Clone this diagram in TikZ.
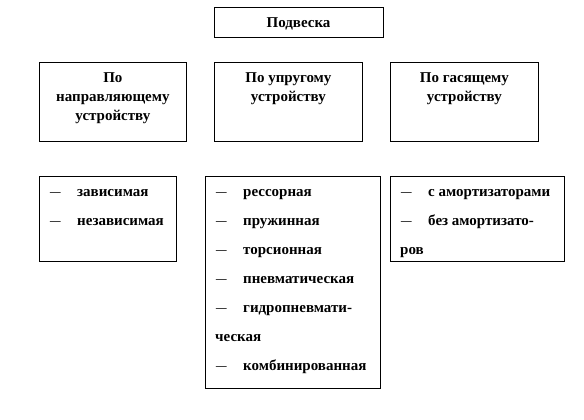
\documentclass[tikz,border=0pt]{standalone}
\usepackage{fontspec}
\setmainfont{Liberation Serif}
\usepackage{graphicx}
\newcommand\ldash{\scalebox{1.4}[1]{\mdseries –}}
\newcommand\litem[1]{\makebox[28pt][l]{\hspace{1pt}\ldash}#1}
\begin{document}
\begin{tikzpicture}[x=1pt,y=-1pt,
  frame/.style={draw, line width=0.8pt, inner sep=0pt, anchor=north west},
  head/.style={font=\bfseries\fontsize{15}{19}\selectfont, align=center, inner sep=0pt, anchor=north},
  items/.style={font=\bfseries\fontsize{15}{29}\selectfont, align=left, inner sep=0pt, anchor=north west}]
\useasboundingbox (0,0) rectangle (584,420);
% top
\node[draw, line width=0.8pt, minimum width=169pt, minimum height=30pt, inner sep=0pt] (top) at (298.5,22) {};
\node[font=\bfseries\fontsize{15}{19}\selectfont, inner sep=0pt] (toptext) at ([yshift=-1.5pt]top.center) {Подвеска};
% row 2
\node[frame, minimum width=147pt, minimum height=79pt] (c1) at (39,62) {};
\node[frame, minimum width=148pt, minimum height=79pt] (c2) at (214,62) {};
\node[frame, minimum width=148pt, minimum height=79pt] (c3) at (390,62) {};
\node[head] (h1) at ([yshift=-10pt]c1.north) {По\\направляющему\\устройству};
\node[head] (h2) at ([yshift=-10pt]c2.north) {По упругому\\устройству};
\node[head] (h3) at ([yshift=-10pt]c3.north) {По гасящему\\устройству};
% row 3
\node[frame, minimum width=137pt, minimum height=85pt] (l1) at (39,176) {};
\node[frame, minimum width=175pt, minimum height=212pt] (l2) at (205,176) {};
\node[frame, minimum width=174pt, minimum height=85pt] (l3) at (390,176) {};
\node[items] (t1) at ([shift={(10pt,-13pt)}]l1.north west)
  {\litem{зависимая}\\\litem{независимая}};
\node[items] (t2) at ([shift={(10pt,-13pt)}]l2.north west)
  {\litem{рессорная}\\\litem{пружинная}\\\litem{торсионная}\\\litem{пневматическая}\\\litem{гидропневмати-}\\ческая\\\litem{комбинированная}};
\node[items] (t3) at ([shift={(10pt,-13pt)}]l3.north west)
  {\litem{с амортизаторами}\\\litem{без амортизато-}\\ров};
\end{tikzpicture}
\end{document}
